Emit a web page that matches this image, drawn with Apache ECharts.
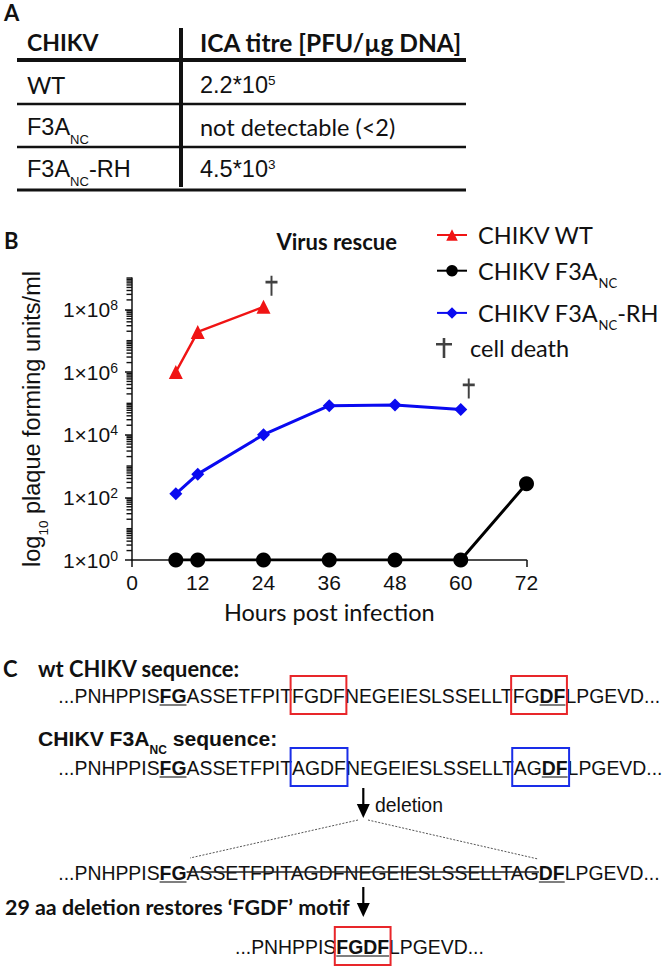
<!DOCTYPE html>
<html><head><meta charset="utf-8">
<script src="https://cdn.jsdelivr.net/npm/echarts@6/dist/echarts.min.js"></script>
<style>html,body{margin:0;padding:0;background:#fff}#c{width:666px;height:966px}</style>
</head><body><div id="c"></div>
<script>
// ---------------- data ----------------
const xTickLabels = [0, 12, 24, 36, 48, 60, 72];
const yTickExponents = [0, 2, 4, 6, 8];
const wtHours = [8, 12, 24];
const wtTitre = [1.0e6, 1.9e7, 1.2e8];
const f3aHours = [8, 12, 24, 36, 48, 60, 72];
const f3aTitre = [1, 1, 1, 1, 1, 1, 270];
const rhHours = [8, 12, 24, 36, 48, 60];
const rhTitre = [130, 550, 1.0e4, 8.4e4, 8.9e4, 6.3e4];
const deathHours = [24, 60];
const deathTitre = [1.2e8, 6.3e4];
const seriesNames = ['CHIKV WT', 'CHIKV F3ANC', 'CHIKV F3ANC-RH', 'cell death'];

const tableHeader = ['CHIKV', 'ICA titre [PFU/µg DNA]'];
const tableVirus = ['WT', '{m|F3A}{s|NC}', '{m|F3A}{s|NC}{m|-RH}'];
const tableTitre = ['{m|2.2*10}{p|5}', 'not detectable (<2)', '{m|4.5*10}{p|3}'];

// minor log ticks (axis decoration)
const minorTickValues = [];
for (let n = 0; n <= 8; n++) {
  if (n % 2 === 1) minorTickValues.push(Math.pow(10, n));
  for (let k = 2; k <= 9; k++) minorTickValues.push(k * Math.pow(10, n));
}
minorTickValues.push(1e9);

// ---------------- helpers ----------------
const mctx = document.createElement('canvas').getContext('2d');
function tw(text, font) { mctx.font = font; return mctx.measureText(text).width; }
const CAL = 'Lato';
const ARI = 'Liberation Sans';
function fitSize(text, weight, target) {
  return 20 * target / tw(text, weight + ' 20px "' + CAL + '"');
}
const G = [];
function txt(x, y, text, o) {
  G.push({type: 'text', x: x, y: y, silent: true,
    style: Object.assign({text: text, fontFamily: CAL, fontSize: 23.5, fill: '#111',
      textAlign: 'left', textVerticalAlign: 'middle'}, o || {})});
}
function ln(x1, y1, x2, y2, o) {
  G.push({type: 'line', silent: true, shape: {x1: x1, y1: y1, x2: x2, y2: y2},
    style: Object.assign({stroke: '#111', lineWidth: 2}, o || {})});
}
function box(x, y, w, h, c) {
  G.push({type: 'rect', silent: true, shape: {x: x, y: y, width: w, height: h},
    style: {fill: 'none', stroke: c, lineWidth: 2}});
}
function arrow(x, y1, y2) {
  ln(x, y1, x, y2 - 10, {lineWidth: 2.2, stroke: '#000'});
  G.push({type: 'polygon', silent: true, shape: {points: [[x - 6.5, y2 - 14], [x + 6.5, y2 - 14], [x, y2]]},
    style: {fill: '#000'}});
}
const SEQ = 19.4;
function seqLine(x0, cy, segs, boxes) {
  let x = x0; const pos = [];
  segs.forEach(function (s) {
    const font = (s.b ? 'bold ' : '') + SEQ + 'px "' + ARI + '"';
    const w = tw(s.t, font);
    pos.push([x, x + w]);
    G.push({type: 'text', x: x, y: cy, silent: true,
      style: {text: s.t, fontFamily: ARI, fontSize: SEQ, fontWeight: s.b ? 'bold' : 'normal',
        fill: '#111', textAlign: 'left', textVerticalAlign: 'middle'}});
    if (s.u) ln(x, cy + 9, x + w, cy + 9, {stroke: '#555', lineWidth: 1.5});
    if (s.s) ln(x, cy - 1, x + w, cy - 1, {stroke: '#222', lineWidth: 1.3});
    x += w;
  });
  (boxes || []).forEach(function (b) {
    box(pos[b[0]][0] - 1.5, cy - 20, pos[b[1]][1] - pos[b[0]][0] + 3, 38, b[2]);
  });
}
const subRich = {
  m: {fontSize: 23.5, lineHeight: 26},
  s: {fontSize: 13, height: 2, verticalAlign: 'bottom'},
  p: {fontSize: 13.5, height: 16, verticalAlign: 'top'}
};

// ---------------- panel A: table ----------------
txt(4, 12, 'A', {fontWeight: 'bold', fontSize: 22});
txt(27, 42, tableHeader[0], {fontWeight: 'bold', fontSize: 23});
txt(200, 42, tableHeader[1], {fontWeight: 'bold', fontSize: 24.5});
const rowY = [85, 127, 169];
rowY.forEach(function (y, i) {
  txt(27, y, tableVirus[i], {rich: subRich});
  txt(200, y, tableTitre[i], {rich: subRich});
});
ln(17, 60, 466, 60, {lineWidth: 4});
ln(17, 104, 466, 104, {lineWidth: 2.5});
ln(17, 147, 466, 147, {lineWidth: 2.5});
ln(17, 190, 466, 190, {lineWidth: 3});
ln(181, 28, 181, 187, {lineWidth: 4});

// ---------------- panel B labels ----------------
txt(4, 240, 'B', {fontWeight: 'bold', fontSize: 22});
txt(397, 241, 'Virus rescue', {fontWeight: 'bold', fontSize: 22, textAlign: 'right'});

// ---------------- panel C ----------------
const headSize = fitSize('wt CHIKV sequence:', 'bold', 202);
txt(3, 668, 'C', {fontWeight: 'bold', fontSize: 22});
txt(38, 668, 'wt CHIKV sequence:', {fontWeight: 'bold', fontSize: headSize});
seqLine(58.3, 696, [
  {t: '...PNHPPIS'}, {t: 'FG', b: 1, u: 1}, {t: 'ASSETFPIT'}, {t: 'FGDF'},
  {t: 'NEGEIESLSSELLT'}, {t: 'FG'}, {t: 'DF', b: 1, u: 1}, {t: 'LPGEVD...'}
], [[3, 3, '#e8262a'], [5, 6, '#e8262a']]);
const f3aHeadSize = (headSize + fitSize('CHIKV F3A', 'bold', 106)) / 2;
txt(38, 738, '{m|CHIKV F3A}{s|NC}{m| sequence:}', {fontWeight: 'bold', rich: {
  m: {fontSize: f3aHeadSize, lineHeight: 26, fontWeight: 'bold'},
  s: {fontSize: 12, height: 2, verticalAlign: 'bottom', fontWeight: 'bold'}}});
seqLine(58.3, 768, [
  {t: '...PNHPPIS'}, {t: 'FG', b: 1, u: 1}, {t: 'ASSETFPIT'}, {t: 'AGDF'},
  {t: 'NEGEIESLSSELLT'}, {t: 'AG'}, {t: 'DF', b: 1, u: 1}, {t: 'LPGEVD...'}
], [[3, 3, '#1a2ee8'], [5, 6, '#1a2ee8']]);
arrow(363.3, 788, 818);
txt(375, 805, 'deletion', {fontFamily: ARI, fontSize: SEQ});
ln(358, 820, 190, 858, {stroke: '#555', lineWidth: 1, lineDash: [2, 1.5]});
ln(368, 820, 538, 859, {stroke: '#555', lineWidth: 1, lineDash: [2, 1.5]});
seqLine(58.3, 873, [
  {t: '...PNHPPIS'}, {t: 'FG', b: 1, u: 1}, {t: 'ASSETFPITAGDFNEGEIESLSSELLTAG', s: 1},
  {t: 'DF', b: 1, u: 1}, {t: 'LPGEVD...'}
], []);
const motifText = '29 aa deletion restores \u2018FGDF\u2019 motif';
txt(5, 907, motifText, {fontWeight: 'bold', fontSize: fitSize(motifText, 'bold', 345)});
arrow(363.3, 887, 917);
seqLine(235, 947, [
  {t: '...PNHPPIS'}, {t: 'FGDF', b: 1, u: 1}, {t: 'LPGEVD...'}
], [[1, 1, '#e8262a']]);

// ---------------- chart ----------------
const zip = (xs, ys) => xs.map((x, i) => [x, ys[i]]);
const dagger = 'path://M6.7,0H9.3V5H16V7.6H9.3V20H6.7V7.6H0V5H6.7Z';
const legendLabels = {
  'CHIKV WT': '{a|CHIKV WT}',
  'CHIKV F3ANC': '{a|CHIKV F3A}{s|NC}',
  'CHIKV F3ANC-RH': '{a|CHIKV F3A}{s|NC}{a|-RH}',
  'cell death': '{a|cell death}'
};
const legendText = {fontFamily: CAL, fontSize: 23.5, color: '#111', padding: [0, 0, 0, 6],
  rich: {a: {fontSize: 23.5, lineHeight: 26}, s: {fontSize: 13, height: 2, verticalAlign: 'bottom'}}};
const chart = echarts.init(document.getElementById('c'), null, {renderer: 'svg'});
chart.setOption({
  animation: false,
  backgroundColor: '#fff',
  grid: {left: 132, right: 139.5, top: 278, bottom: 406, containLabel: false},
  legend: [{
    orient: 'vertical', left: 436, top: 223, padding: 0,
    itemWidth: 30, itemHeight: 14.4, itemGap: 11.7,
    data: seriesNames.slice(0, 3), selectedMode: false,
    formatter: function (n) { return legendLabels[n]; },
    textStyle: legendText
  }, {
    orient: 'vertical', left: 436, top: 336, padding: 0,
    itemWidth: 30, itemHeight: 20,
    data: seriesNames.slice(3), selectedMode: false,
    formatter: function (n) { return legendLabels[n]; },
    textStyle: legendText
  }],
  xAxis: {
    type: 'value', min: 0, max: 72, interval: 12,
    name: 'Hours post infection', nameLocation: 'middle', nameGap: 40,
    nameTextStyle: {fontFamily: CAL, fontSize: 23.5, color: '#111'},
    axisLine: {lineStyle: {color: '#111', width: 1.5}},
    axisTick: {length: 7, lineStyle: {color: '#111', width: 1.5}},
    axisLabel: {fontFamily: ARI, fontSize: 21, color: '#111', margin: 11.5,
      formatter: function (v) { return xTickLabels.indexOf(v) >= 0 ? String(v) : ''; }},
    splitLine: {show: false}
  },
  yAxis: {
    type: 'log', logBase: 10, min: 1, max: 1e9, interval: 2,
    name: '{a|log}{s|10}{a| plaque forming units/ml}', nameLocation: 'middle', nameRotate: 90, nameGap: 88,
    nameTextStyle: {fontFamily: ARI, fontSize: 23.5, color: '#111', lineHeight: 23.5,
      rich: {a: {fontSize: 23.5, lineHeight: 23.5}, s: {fontSize: 13.5, height: 1, verticalAlign: 'bottom'}}},
    axisLine: {show: true, lineStyle: {color: '#111', width: 1.5}},
    axisTick: {length: 7, lineStyle: {color: '#111', width: 1.5}},
    axisLabel: {fontFamily: ARI, fontSize: 21, color: '#111', margin: 14, showMaxLabel: false,
      formatter: function (v) {
        const n = Math.round(Math.log10(v));
        return yTickExponents.indexOf(n) >= 0 ? '{m|1\u00d710}{e|' + n + '}' : '';
      },
      rich: {m: {fontSize: 21, lineHeight: 21}, e: {fontSize: 14, height: 12, verticalAlign: 'top'}}},
    splitLine: {show: false}
  },
  series: [
    {name: seriesNames[0], type: 'line', data: zip(wtHours, wtTitre), symbol: 'triangle', symbolSize: 14,
      itemStyle: {color: '#f01414'}, lineStyle: {color: '#f01414', width: 2.5}, z: 3},
    {name: seriesNames[1], type: 'line', data: zip(f3aHours, f3aTitre), symbol: 'circle', symbolSize: 15,
      itemStyle: {color: '#000'}, lineStyle: {color: '#000', width: 3}, z: 4},
    {name: seriesNames[2], type: 'line', data: zip(rhHours, rhTitre), symbol: 'diamond', symbolSize: 13,
      itemStyle: {color: '#0a0af0'}, lineStyle: {color: '#0a0af0', width: 3}, z: 3},
    {name: seriesNames[3], type: 'scatter', data: zip(deathHours, deathTitre), symbol: dagger,
      symbolSize: [15, 20], symbolOffset: [8, -21], symbolKeepAspect: true, itemStyle: {color: '#111'}, clip: false, z: 5}
  ],
  graphic: {elements: G}
});

// minor log ticks placed through the library's own y scale
let axisX = Number(chart.convertToPixel({xAxisIndex: 0}, 0));
if (!isFinite(axisX)) axisX = 132;
const tickEls = [];
minorTickValues.forEach(function (v) {
  const py = Number(chart.convertToPixel({yAxisIndex: 0}, v));
  if (!isFinite(py)) return;
  tickEls.push({type: 'rect', silent: true, z: 100,
    shape: {x: axisX - 5.5, y: py - 0.7, width: 5.5, height: 1.4},
    style: {fill: '#111'}});
});
chart.setOption({graphic: {elements: G.concat(tickEls)}});
</script></body></html>
